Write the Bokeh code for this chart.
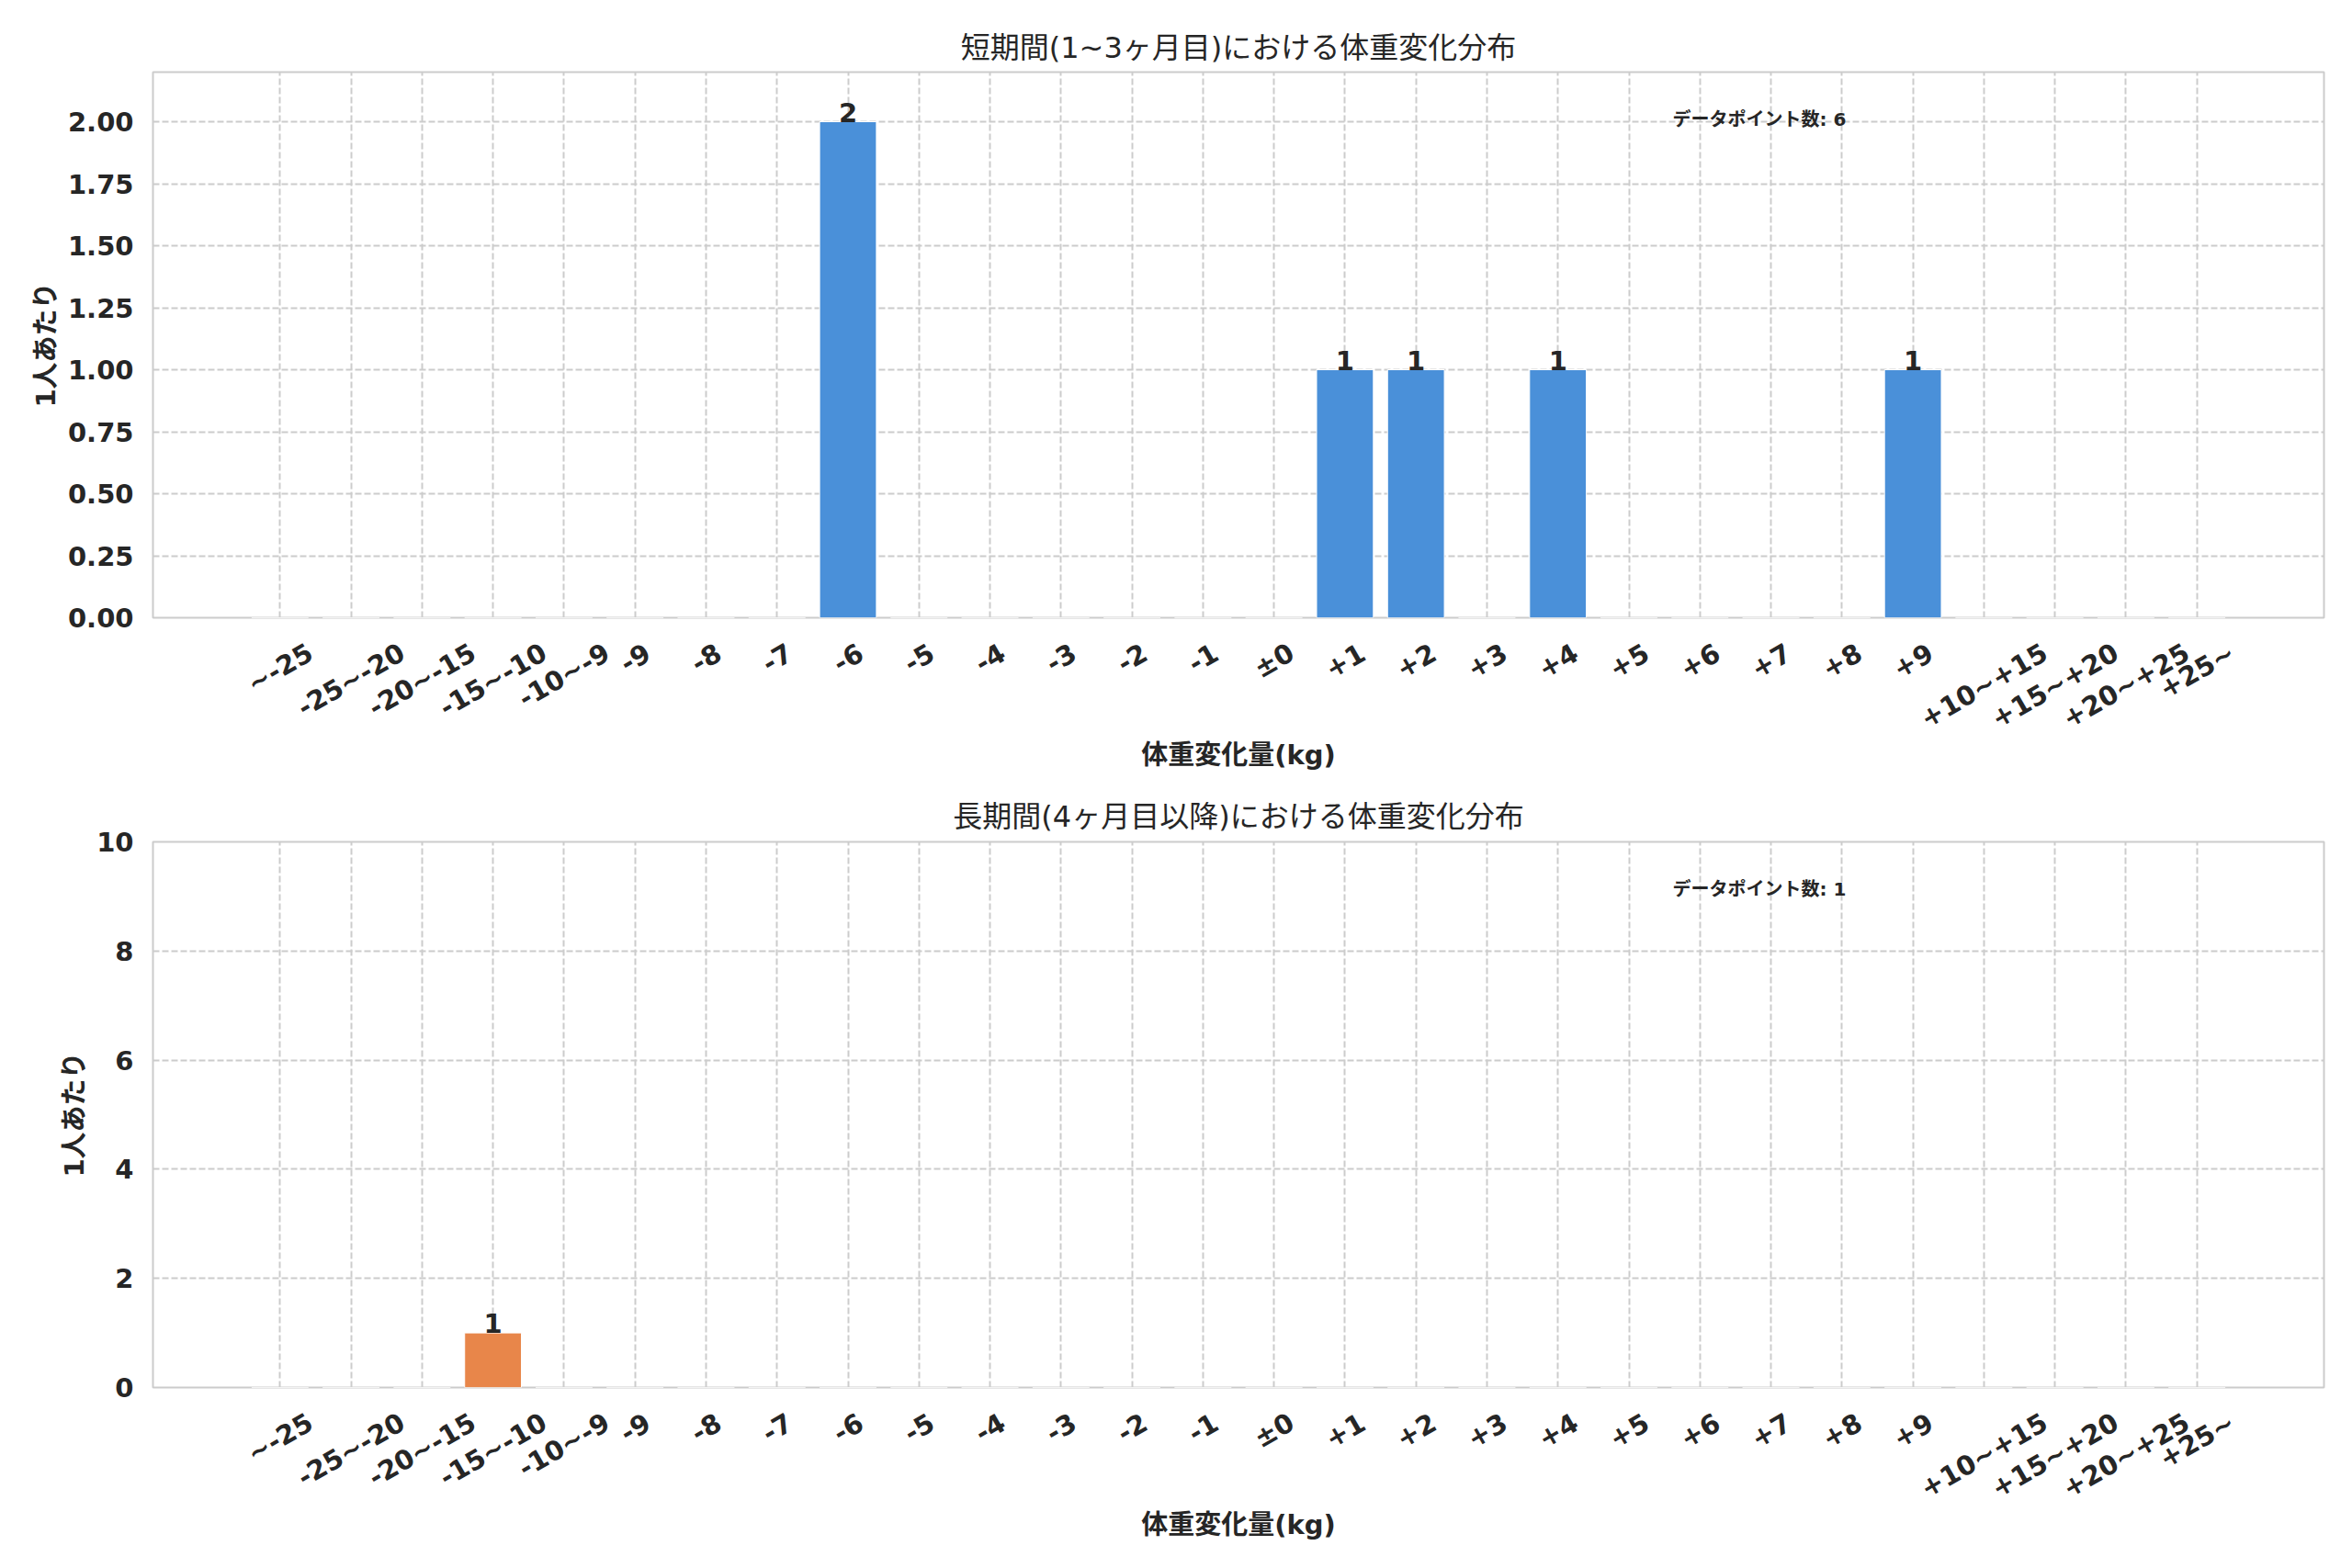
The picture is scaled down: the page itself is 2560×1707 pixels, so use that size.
from bokeh.plotting import figure
from bokeh.layouts import column
from bokeh.models import ColumnDataSource, FixedTicker, Range1d, Label, Title
from bokeh.core.properties import value
from bokeh.embed import file_html
from bokeh.resources import INLINE

categories = ["~-25", "-25~-20", "-20~-15", "-15~-10", "-10~-9",
              "-9", "-8", "-7", "-6", "-5", "-4", "-3", "-2", "-1", "±0",
              "+1", "+2", "+3", "+4", "+5", "+6", "+7", "+8", "+9",
              "+10~+15", "+15~+20", "+20~+25", "+25~"]
short_counts = [0, 0, 0, 0, 0, 0, 0, 0, 2, 0, 0, 0, 0, 0, 0,
                1, 1, 0, 1, 0, 0, 0, 0, 1, 0, 0, 0, 0]
long_counts = [0, 0, 0, 1, 0, 0, 0, 0, 0, 0, 0, 0, 0, 0, 0,
               0, 0, 0, 0, 0, 0, 0, 0, 0, 0, 0, 0, 0]
short_title = "短期間(1~3ヶ月目)における体重変化分布"
long_title = "長期間(4ヶ月目以降)における体重変化分布"
x_label = "体重変化量(kg)"
y_label = "1人あたり"
note_label = "データポイント数"
short_yticks = [0.0, 0.25, 0.5, 0.75, 1.0, 1.25, 1.5, 1.75, 2.0]
long_yticks = [0, 2, 4, 6, 8, 10]
short_ymax = 2.2
long_ymax = 10

FONT = "DejaVu Sans, Noto Sans CJK JP"
TXT = "#262626"
GRID = "#cccccc"
FS = 29
W = 2545
LEFT, RIGHT = 166, 16
FRAME_H = 594
GAP = 18          # white border below each chart frame
STRIP_H = 114     # frame height of the tick-label strip
STRIP_B = 46      # border below the strip (x-axis title)
# approximate advance widths (em) of DejaVu Sans Bold, used to centre rotated labels
ADV = {"+": 0.838, "-": 0.415, "~": 0.838, "±": 0.838}

n = len(categories)
idx = list(range(n))
X0 = -0.4 - 0.05 * (n - 1 + 0.8)
X1 = n - 1 + 0.4 + 0.05 * (n - 1 + 0.8)


def text_w(s):
    return sum(ADV.get(ch, 0.696) for ch in s) * FS


def chart(counts, color, title, yticks, ymax, fmt, top, tstand):
    p = figure(width=W, height=top + FRAME_H + GAP, output_backend="svg",
               toolbar_location=None,
               x_range=Range1d(X0, X1), y_range=Range1d(0, ymax),
               min_border_left=LEFT, min_border_right=RIGHT,
               min_border_top=top, min_border_bottom=GAP)
    p.title = Title(text=title, text_font=FONT, text_font_size="32px",
                    text_font_style="normal", text_color=TXT, align="center",
                    standoff=tstand)
    p.background_fill_color = "white"
    p.border_fill_color = "white"
    p.outline_line_color = GRID
    p.outline_line_width = 2

    src = ColumnDataSource(dict(x=idx, top=counts,
                                lab=[str(c) if c > 0 else "" for c in counts]))
    p.vbar(x="x", top="top", width=0.8, source=src, fill_color=color,
           line_color="white", line_width=1)
    p.text(x="x", y="top", text="lab", source=src, text_align="center",
           text_baseline="bottom", text_font=value(FONT), text_font_size=f"{FS}px",
           text_font_style="bold", text_color=TXT)

    p.xaxis.visible = False
    p.yaxis.ticker = FixedTicker(ticks=yticks)
    p.yaxis.major_label_overrides = {t: fmt.format(t) for t in yticks}
    ax = p.yaxis
    ax.axis_line_color = None
    ax.major_tick_line_color = None
    ax.minor_tick_line_color = None
    ax.major_label_text_font = FONT
    ax.major_label_text_font_size = f"{FS}px"
    ax.major_label_text_font_style = "bold"
    ax.major_label_text_color = TXT
    ax.axis_label = y_label
    ax.axis_label_text_font = FONT
    ax.axis_label_text_font_size = f"{FS}px"
    ax.axis_label_text_font_style = "bold"
    ax.axis_label_text_color = TXT
    ax.major_label_standoff = 15
    ax.axis_label_standoff = 4

    for g in (p.xgrid, p.ygrid):
        g.grid_line_color = GRID
        g.grid_line_width = 2
        g.grid_line_dash = "7 3"
    p.xgrid.ticker = FixedTicker(ticks=idx)

    p.add_layout(Label(x=X0 + 0.7 * (X1 - X0), y=0.914 * ymax,
                       text=f"{note_label}: {sum(counts)}", text_font=FONT,
                       text_font_size="20px", text_font_style="bold",
                       text_color=TXT, text_baseline="middle", text_align="left"))
    return p


def strip():
    # category tick labels (rotated 30 degrees, centred on ticks) and the x-axis title
    s = figure(width=W, height=STRIP_H + STRIP_B, output_backend="svg",
               toolbar_location=None,
               x_range=Range1d(X0, X1), y_range=Range1d(-STRIP_H, 0),
               min_border_left=LEFT, min_border_right=RIGHT,
               min_border_top=0, min_border_bottom=STRIP_B)
    s.outline_line_color = None
    s.background_fill_color = "white"
    s.border_fill_color = "white"
    s.xgrid.visible = False
    s.ygrid.visible = False
    s.yaxis.visible = False
    ys = [-(21 + 0.25 * text_w(c) + 0.433 * 1.164 * FS - GAP) for c in categories]
    s.text(x=idx, y=ys, text=categories, angle=0.5236, text_align="center",
           text_baseline="middle", text_font=value(FONT), text_font_size=f"{FS}px",
           text_font_style="bold", text_color=TXT)
    ax = s.xaxis
    ax.ticker = FixedTicker(ticks=[])
    ax.axis_line_color = None
    ax.major_tick_line_color = None
    ax.minor_tick_line_color = None
    ax.major_label_standoff = 0
    ax.axis_label = x_label
    ax.axis_label_text_font = FONT
    ax.axis_label_text_font_size = f"{FS}px"
    ax.axis_label_text_font_style = "bold"
    ax.axis_label_text_color = TXT
    ax.axis_label_standoff = 0
    return s


p1 = chart(short_counts, "#4a90d9", short_title, short_yticks, short_ymax, "{:.2f}", 78, 16)
s1 = strip()
p2 = chart(long_counts, "#e8864a", long_title, long_yticks, long_ymax, "{:.0f}", 66, 18)
s2 = strip()
layout = column(p1, s1, p2, s2, spacing=0)
open("out.html", "w").write(file_html(layout, INLINE))
